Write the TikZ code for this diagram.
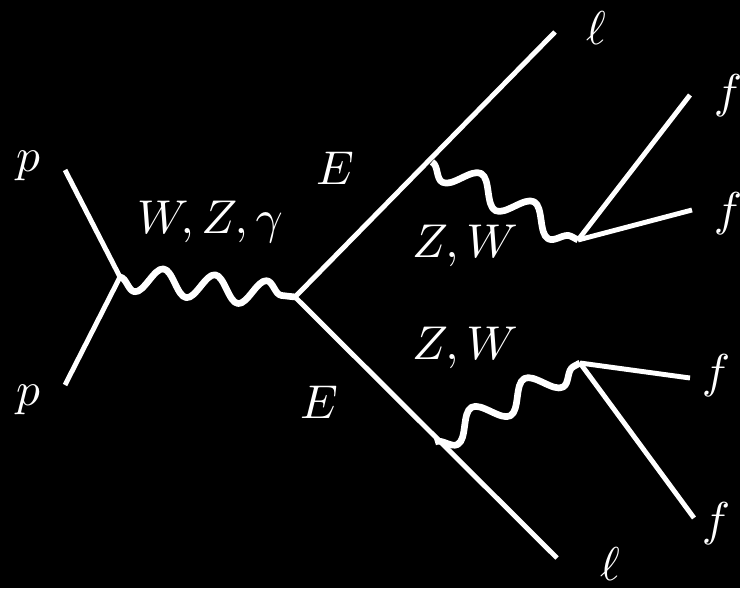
\documentclass[tikz,border=0pt]{standalone}
\usetikzlibrary{decorations.pathmorphing}

\begin{document}
\begin{tikzpicture}[x=0.02cm, y=-0.02cm,
  every node/.style={text=white, scale=2.7},
  fermion/.style={draw=white, line width=2.8pt},
  boson/.style={draw=white, line width=3.8pt, line join=round,
    decorate, decoration={snake, amplitude=-0.26cm, segment length=#1}},
  boson/.default=1.04cm]

%% Background
\fill[black] (0,0) rectangle (740,588);
\useasboundingbox (0,0) rectangle (740,588);

%% Vertices and external ends
\coordinate (pin1) at (65,170);
\coordinate (pin2) at (65,385);
\coordinate (v1) at (120,277);
\coordinate (v2) at (295,297);
\coordinate (lup) at (555,32);
\coordinate (ldn) at (557,558);
\coordinate (eup) at (432,162);
\coordinate (edn) at (435,442);
\coordinate (dup) at (578,240);
\coordinate (ddn) at (580,363);
\coordinate (fup1) at (690,95);
\coordinate (fup2) at (692,210);
\coordinate (fdn1) at (690,378);
\coordinate (fdn2) at (694,518);

%% Incoming protons
\draw[fermion] (pin1) -- (v1);
\draw[fermion] (pin2) -- (v1);
\draw[boson] (v1) -- (v2);

%% Heavy leptons
\draw[fermion] (v2) -- (lup);
\draw[fermion] (v2) -- (ldn);

%% Upper decay
\draw[boson=1.2cm] (eup) -- (dup);
\draw[fermion] (dup) -- (fup1);
\draw[fermion] (dup) -- (fup2);

%% Lower decay
\draw[boson=1.2cm] (edn) -- (ddn);
\draw[fermion] (ddn) -- (fdn1);
\draw[fermion] (ddn) -- (fdn2);

%% Labels
\node (lp1) at (28,166) {$p$};
\node (lp2) at (28,400) {$p$};
\node (lv) at (210,222) {$W,Z,\gamma$};
\node (lE1) at (335,168) {$E$};
\node (lE2) at (319,402) {$E$};
\node (ll1) at (596,28) {$\ell$};
\node (ll2) at (610,564) {$\ell$};
\node (lZ1) at (465,246) {$Z,W$};
\node (lZ2) at (465,348) {$Z,W$};
\node (lf1) at (728,96) {$f$};
\node (lf2) at (728,214) {$f$};
\node (lf3) at (716,376) {$f$};
\node (lf4) at (716,524) {$f$};

\end{tikzpicture}
\end{document}
